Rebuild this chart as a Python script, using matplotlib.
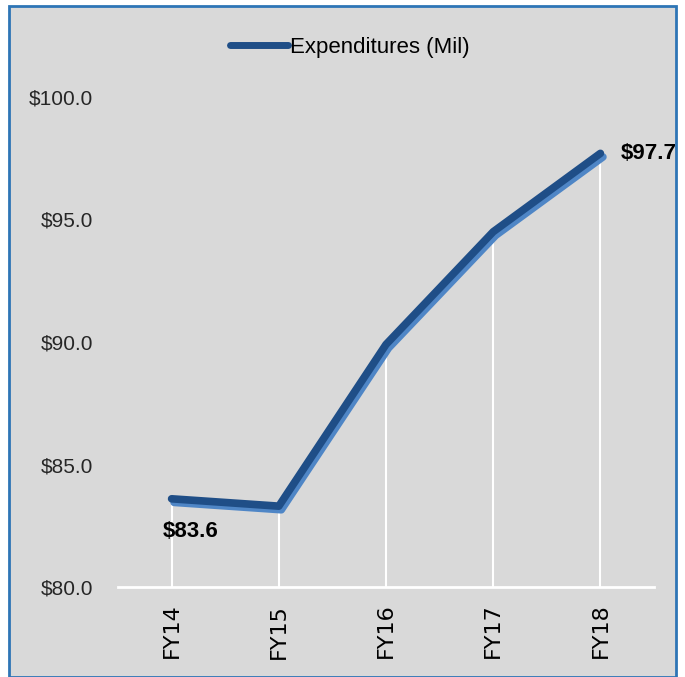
import numpy as np
import matplotlib.pyplot as plt
from matplotlib.patches import Rectangle
import matplotlib.patheffects as pe

# data
years = ['FY14', 'FY15', 'FY16', 'FY17', 'FY18']
spend = [83.6, 83.3, 89.9, 94.5, 97.7]
yticks = [80, 85, 90, 95, 100]

W, H = 685, 677
fig = plt.figure(figsize=(W / 100, H / 100), dpi=100)
fig.patch.set_facecolor('white')

# gray chart area with blue frame
fig.patches.append(Rectangle((9 / W, 0), 667 / W, 1 - 6 / H, transform=fig.transFigure,
                             facecolor='#D9D9D9', edgecolor='#2E75B6', linewidth=2, zorder=-5))

ax = fig.add_axes([118 / W, 1 - 587 / H, (654 - 118) / W, (587 - 97) / H])
ax.set_facecolor('none')
x = np.arange(len(years))

# drop lines
for xi, yi in zip(x, spend):
    ax.plot([xi, xi], [80, yi], color='white', lw=1.5, zorder=1)

ax.plot(x, spend, color='#1F4E87', lw=5.5, solid_capstyle='round', solid_joinstyle='round',
        label='Expenditures (Mil)', zorder=3,
        path_effects=[pe.SimpleLineShadow(offset=(1.8, -2.6), shadow_color='#4F86C6', alpha=1),
                      pe.Normal()])

ax.set_xlim(-0.5, len(years) - 0.5)
ax.set_ylim(80, 100)
ax.set_yticks(yticks)
ax.set_yticklabels([f'${v:.1f}' for v in yticks], fontsize=15, color='#262626',
                   family='Liberation Sans')
ax.set_xticks(x)
ax.set_xticklabels(years, rotation=90, fontsize=16, color='black', family='DejaVu Sans')
ax.tick_params(length=0, axis='y', pad=18)
ax.tick_params(length=0, axis='x', pad=12)
for s in ['top', 'right', 'left']:
    ax.spines[s].set_visible(False)
ax.spines['bottom'].set_color('white')
ax.spines['bottom'].set_linewidth(2)

lbl = dict(textcoords='offset points', ha='center', va='center', fontsize=16,
           fontweight='bold', family='Liberation Sans')
ax.annotate(f'${spend[0]:.1f}', (x[0], spend[0]), xytext=(13.7, -23.5), **lbl)
ax.annotate(f'${spend[-1]:.1f}', (x[-1], spend[-1]), xytext=(34.6, 0), **lbl)

leg = fig.legend(loc='center', bbox_to_anchor=(350 / W, 1 - 47 / H), frameon=False,
                 prop={'family': 'Liberation Sans', 'size': 16},
                 handlelength=2.6, handletextpad=0.1)
for l in leg.get_lines():
    l.set_path_effects([])
    l.set_linewidth(5)

fig.savefig('out.png', dpi=100)
